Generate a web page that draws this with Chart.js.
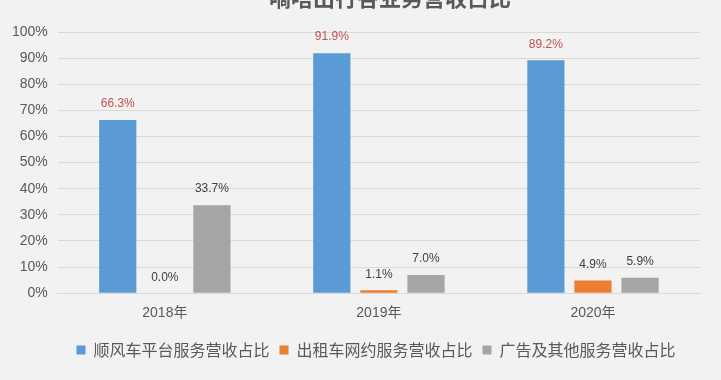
<!DOCTYPE html>
<html>
<head>
<meta charset="utf-8">
<script src="https://cdn.jsdelivr.net/npm/chart.js@4"></script>
<style>
  html, body { margin: 0; padding: 0; background: #f2f2f2; }
  #wrap { width: 721px; height: 380px; position: relative; }
</style>
</head>
<body>
<div id="wrap"><canvas id="graphique"></canvas></div>
<script>
// catégories et séries
const annees = ["2018年", "2019年", "2020年"];
const shunfengche = [66.3, 91.9, 89.2];
const taxi = [0.0, 1.1, 4.9];
const autres = [33.7, 7.0, 5.9];
const nomsSeries = ["顺风车平台服务营收占比", "出租车网约服务营收占比", "广告及其他服务营收占比"];
const titre = "嘀嗒出行各业务营收占比";

const police = "'Liberation Sans', 'Noto Sans CJK SC', sans-serif";

// étiquettes au-dessus des barres
const etiquettes = {
    id: "etiquettes",
    afterLayout(chart) {
        // décalage de la légende (un peu à droite et plus bas)
        const leg = chart.legend;
        leg.left += 50;
        leg.top += 6;
        leg.bottom += 6;
    },
    afterDatasetsDraw(chart) {
        const ctx = chart.ctx;
        ctx.save();
        ctx.font = "12px " + police;
        ctx.textAlign = "center";
        ctx.textBaseline = "bottom";
        chart.data.datasets.forEach((ds, i) => {
            const meta = chart.getDatasetMeta(i);
            meta.data.forEach((bar, j) => {
                ctx.fillStyle = i === 0 ? "#c0504d" : "#404040";
                ctx.fillText(ds.data[j].toFixed(1) + "%", bar.x, bar.y - 10);
            });
        });
        // titre coupé en haut
        ctx.font = "bold 22px 'Noto Sans CJK SC', sans-serif";
        ctx.fillStyle = "#595959";
        ctx.textBaseline = "alphabetic";
        ctx.fillText(titre, 390, 6);
        ctx.restore();
    }
};

const data = {
    labels: annees,
    datasets: [
        { label: nomsSeries[0], data: shunfengche, backgroundColor: "#5b9bd5" },
        { label: nomsSeries[1], data: taxi, backgroundColor: "#ed7d31" },
        { label: nomsSeries[2], data: autres, backgroundColor: "#a5a5a5" },
    ],
};

const config = {
    type: "bar",
    data: data,
    plugins: [etiquettes],
    options: {
        responsive: true,
        maintainAspectRatio: false,
        animation: false,
        layout: { padding: { left: 2, right: 21, top: 32, bottom: 18 } },
        datasets: { bar: { categoryPercentage: 0.66, barPercentage: 0.79 } },
        plugins: {
            title: { display: false },
            tooltip: { enabled: false },
            legend: {
                position: "bottom",
                labels: {
                    boxWidth: 9,
                    boxHeight: 9,
                    padding: 10,
                    color: "#595959",
                    font: { size: 16, family: "'Noto Sans CJK SC', sans-serif" },
                },
            },
        },
        scales: {
            x: {
                grid: { display: false },
                border: { color: "#d9d9d9" },
                ticks: { color: "#595959", font: { size: 14, family: police }, padding: 4 },
            },
            y: {
                min: 0,
                max: 100,
                grid: { color: "#d9d9d9", drawTicks: false },
                border: { display: false },
                ticks: {
                    stepSize: 10,
                    padding: 10,
                    color: "#595959",
                    font: { size: 14, family: police },
                    callback: v => v + "%",
                },
            },
        },
    },
};

new Chart(document.querySelector("#graphique"), config);
</script>
</body>
</html>
